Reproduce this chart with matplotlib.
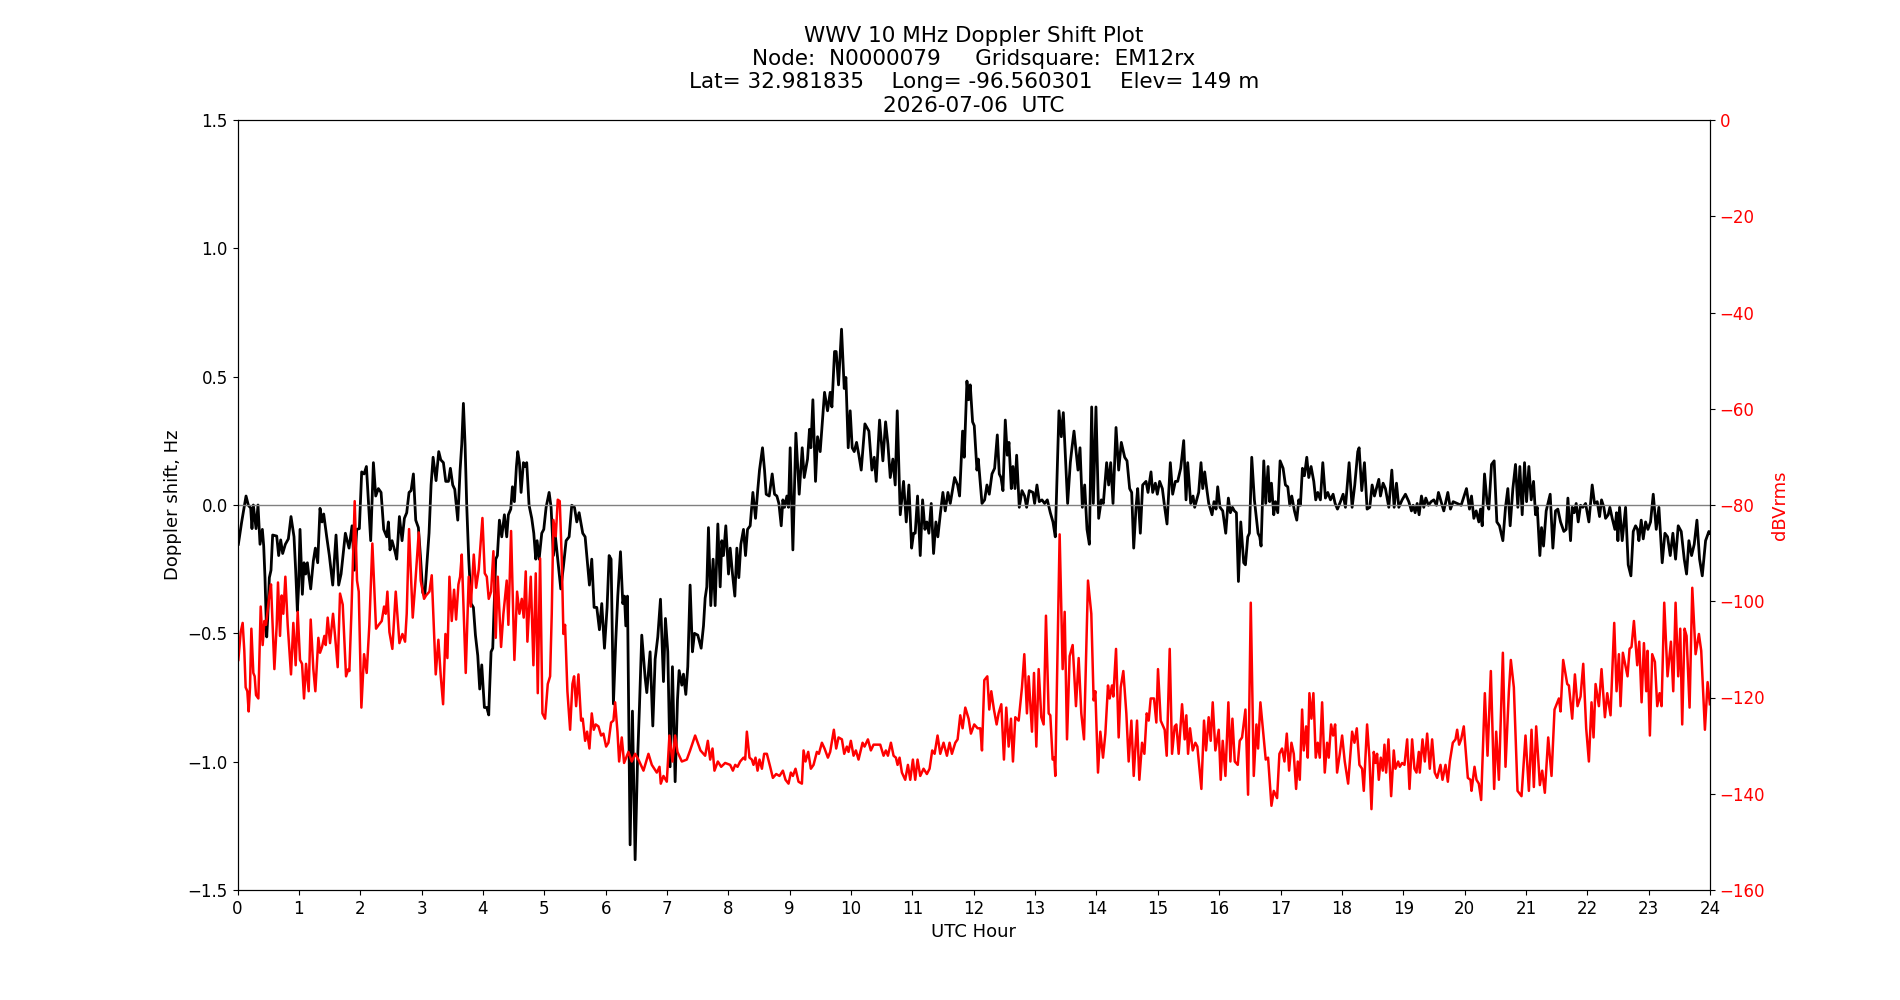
import matplotlib
matplotlib.use('Agg')
import matplotlib.pyplot as plt

# doppler shift trace (black, left axis)
doppler_hours = [
    0.014, 0.068, 0.139, 0.177, 0.215, 0.236, 0.258, 0.302, 0.334, 0.367,
    0.405, 0.427, 0.448, 0.476, 0.492, 0.519, 0.546, 0.573, 0.639, 0.671,
    0.704, 0.736, 0.780, 0.829, 0.872, 0.921, 0.948, 0.976, 0.997, 1.019,
    1.057, 1.084, 1.111, 1.139, 1.160, 1.193, 1.236, 1.269, 1.307, 1.345,
    1.378, 1.405, 1.454, 1.497, 1.552, 1.606, 1.649, 1.688, 1.758, 1.818,
    1.867, 1.905, 1.943, 1.986, 2.024, 2.063, 2.101, 2.139, 2.171, 2.215,
    2.253, 2.296, 2.340, 2.383, 2.432, 2.459, 2.486, 2.519, 2.568, 2.595,
    2.639, 2.682, 2.720, 2.758, 2.796, 2.829, 2.867, 2.905, 2.948, 2.981,
    3.019, 3.052, 3.084, 3.122, 3.155, 3.188, 3.236, 3.280, 3.313, 3.356,
    3.394, 3.438, 3.470, 3.508, 3.541, 3.590, 3.628, 3.655, 3.682, 3.709,
    3.736, 3.769, 3.807, 3.845, 3.878, 3.916, 3.948, 3.981, 4.024, 4.063,
    4.095,
    4.100, 4.133, 4.160, 4.209, 4.236, 4.269, 4.307, 4.350, 4.388, 4.415,
    4.454, 4.481, 4.513, 4.546, 4.568, 4.595, 4.622, 4.660, 4.687, 4.714,
    4.752, 4.796, 4.829, 4.861, 4.883, 4.916, 4.959, 4.992, 5.030, 5.079,
    5.111, 5.149, 5.182, 5.269, 5.312, 5.356, 5.405, 5.448, 5.492, 5.530,
    5.568, 5.627, 5.666, 5.704, 5.736, 5.774, 5.812, 5.856, 5.899, 5.937,
    5.981, 6.024, 6.057, 6.089, 6.127, 6.165, 6.198, 6.242, 6.280, 6.307,
    6.329, 6.356, 6.399, 6.437, 6.481, 6.519, 6.551, 6.589, 6.644, 6.671,
    6.725, 6.769, 6.807, 6.850, 6.894, 6.943, 6.975, 7.013, 7.051, 7.089,
    7.133, 7.171, 7.198, 7.242, 7.269, 7.307, 7.339, 7.377, 7.415, 7.448,
    7.502, 7.557, 7.595, 7.622, 7.649, 7.676, 7.714, 7.752, 7.785, 7.829,
    7.867,
    7.894, 7.921, 7.959, 8.003, 8.030, 8.068, 8.106, 8.139, 8.171, 8.204,
    8.247, 8.280, 8.313, 8.356, 8.400, 8.443, 8.476, 8.508, 8.557, 8.590,
    8.617, 8.666, 8.715, 8.753, 8.791, 8.824, 8.862, 8.889, 8.916, 8.954,
    8.981, 9.008, 9.052, 9.101, 9.155, 9.204, 9.237, 9.291, 9.323, 9.345,
    9.378, 9.421, 9.454, 9.497, 9.568, 9.617, 9.660, 9.688, 9.731, 9.758,
    9.796, 9.845, 9.889, 9.916, 9.954, 9.986, 10.019, 10.052, 10.090, 10.128,
    10.166, 10.226, 10.291, 10.340, 10.378, 10.410, 10.465, 10.519, 10.563, 10.601,
    10.639, 10.682, 10.720, 10.753, 10.802, 10.856, 10.900, 10.943, 10.987, 11.019,
    11.046, 11.084, 11.128, 11.166, 11.204, 11.236, 11.269, 11.307, 11.345, 11.383,
    11.415, 11.454, 11.497, 11.535, 11.579, 11.617, 11.688, 11.737, 11.769, 11.818,
    11.845, 11.889, 11.916, 11.943, 11.981, 12.008, 12.052, 12.074,
    12.134, 12.177, 12.215, 12.253, 12.297, 12.340, 12.384, 12.416, 12.444, 12.476,
    12.514, 12.547, 12.574, 12.612, 12.639, 12.672, 12.699, 12.742, 12.786, 12.829,
    12.862, 12.905, 12.965, 12.992, 13.030, 13.068, 13.112, 13.155, 13.199, 13.248,
    13.291, 13.329, 13.362, 13.389, 13.427, 13.460, 13.492, 13.530, 13.574, 13.601,
    13.634, 13.699, 13.732, 13.770, 13.808, 13.846, 13.884, 13.922, 13.949, 13.992,
    14.036, 14.079, 14.112, 14.166, 14.199, 14.232, 14.270, 14.319, 14.362, 14.405,
    14.460, 14.498, 14.541, 14.574, 14.607, 14.645, 14.672, 14.715, 14.753, 14.808,
    14.840, 14.889, 14.916, 14.960, 14.992, 15.030, 15.074, 15.112, 15.150, 15.204,
    15.242, 15.286, 15.324, 15.373, 15.422, 15.460, 15.487, 15.536, 15.574, 15.601,
    15.666, 15.704, 15.732, 15.764, 15.797, 15.830, 15.884, 15.916, 15.949, 15.976,
    16.014, 16.058,
    16.107, 16.150, 16.183, 16.216, 16.248, 16.281, 16.314, 16.352, 16.400, 16.428,
    16.466, 16.493, 16.531, 16.574, 16.634, 16.661, 16.683, 16.727, 16.759, 16.797,
    16.824, 16.852, 16.890, 16.917, 16.955, 16.993, 17.042, 17.080, 17.118, 17.151,
    17.183, 17.227, 17.265, 17.297, 17.324, 17.357, 17.390, 17.428, 17.460, 17.498,
    17.542, 17.574, 17.607, 17.650, 17.689, 17.732, 17.770, 17.814, 17.857, 17.890,
    17.928, 17.977, 18.020, 18.058, 18.118, 18.167, 18.210, 18.259, 18.281, 18.324,
    18.368, 18.411, 18.455, 18.493, 18.531, 18.602, 18.629, 18.672, 18.710, 18.765,
    18.814, 18.852, 18.890, 18.928, 18.982, 19.036, 19.091, 19.134, 19.161, 19.194,
    19.227, 19.259, 19.297, 19.335, 19.368, 19.411, 19.455, 19.498, 19.542, 19.574,
    19.661, 19.727, 19.770, 19.814, 19.879, 19.944, 20.031, 20.080,
    20.113, 20.151, 20.189, 20.232, 20.260, 20.287, 20.325, 20.368, 20.395, 20.439,
    20.482, 20.526, 20.569, 20.624, 20.667, 20.705, 20.743, 20.787, 20.830, 20.868,
    20.901, 20.939, 20.977, 21.010, 21.048, 21.086, 21.124, 21.156, 21.184, 21.227,
    21.254, 21.287, 21.330, 21.395, 21.439, 21.482, 21.520, 21.564, 21.618, 21.656,
    21.684, 21.727, 21.754, 21.787, 21.819, 21.852, 21.890, 21.928, 21.972, 22.026,
    22.080, 22.118, 22.162, 22.200, 22.232, 22.270, 22.298, 22.341, 22.368, 22.406,
    22.450, 22.477, 22.499, 22.526, 22.569, 22.624, 22.667, 22.711, 22.749, 22.787,
    22.819, 22.841, 22.879, 22.912, 22.950, 22.988, 23.031, 23.075, 23.124, 23.167,
    23.221, 23.265, 23.308, 23.352, 23.395, 23.439, 23.482, 23.531, 23.580, 23.618,
    23.656, 23.700, 23.743, 23.787, 23.830, 23.874, 23.928, 23.982, 23.998,
]
doppler_hz = [
    -0.153, -0.066, 0.035, -0.001, -0.012, -0.092, 0.0, -0.092, 0.0, -0.153,
    -0.095, -0.16, -0.283, -0.514, -0.442, -0.283, -0.254, -0.117, -0.121, -0.197,
    -0.136, -0.189, -0.153, -0.132, -0.045, -0.124, -0.254, -0.413, -0.312, -0.095,
    -0.348, -0.225, -0.269, -0.225, -0.269, -0.327, -0.218, -0.168, -0.225, -0.013,
    -0.066, -0.035, -0.124, -0.197, -0.312, -0.117, -0.312, -0.269, -0.110, -0.168,
    -0.081, -0.254, -0.095, -0.092, 0.129, 0.121, 0.150, -0.009, -0.139, 0.165,
    0.035, 0.064, 0.049, -0.095, -0.124, -0.066, -0.175, -0.139, -0.182, -0.211,
    -0.045, -0.139, -0.052, -0.030, 0.049, 0.056, 0.121, -0.059, -0.088, -0.197,
    -0.341, -0.355, -0.240, -0.110, 0.078, 0.186, 0.095, 0.208, 0.176, 0.165,
    0.092, 0.092, 0.143, 0.078, 0.061, -0.059, 0.136, 0.237, 0.396, 0.237,
    -0.001, -0.211, -0.384, -0.399, -0.507, -0.587, -0.717, -0.623, -0.789, -0.789,
    -0.818,
    -0.775, -0.572, -0.558, -0.211, -0.197, -0.059, -0.124, -0.038, -0.124, -0.038,
    -0.016, 0.071, 0.013, 0.150, 0.208, 0.165, 0.049, 0.165, 0.150, 0.165,
    -0.001, -0.052, -0.110, -0.211, -0.139, -0.211, -0.110, -0.095, -0.009, 0.049,
    -0.009, -0.197, -0.124, -0.327, -0.240, -0.139, -0.124, -0.001, -0.009, -0.066,
    -0.030, -0.110, -0.124, -0.225, -0.312, -0.211, -0.399, -0.399, -0.486, -0.384,
    -0.558, -0.399, -0.197, -0.211, -0.775, -0.529, -0.355, -0.182, -0.384, -0.355,
    -0.471, -0.355, -1.324, -0.803, -1.382, -1.006, -0.789, -0.507, -0.673, -0.731,
    -0.572, -0.861, -0.601, -0.514, -0.367, -0.688, -0.442, -0.572, -1.020, -0.630,
    -1.078, -0.760, -0.645, -0.702, -0.659, -0.738, -0.630, -0.312, -0.572, -0.500,
    -0.507, -0.558, -0.471, -0.363, -0.319, -0.088, -0.392, -0.211, -0.392, -0.074,
    -0.319,
    -0.139, -0.197, -0.081, -0.269, -0.168, -0.269, -0.355, -0.168, -0.283, -0.153,
    -0.095, -0.197, -0.095, -0.081, 0.049, -0.052, 0.049, 0.136, 0.223, 0.136,
    0.042, 0.035, 0.121, 0.042, 0.035, 0.006, -0.081, 0.020, -0.009, 0.035,
    -0.009, 0.223, -0.175, 0.280, 0.042, 0.223, 0.107, 0.179, 0.295, 0.223,
    0.410, 0.092, 0.266, 0.208, 0.439, 0.367, 0.439, 0.382, 0.598, 0.598,
    0.468, 0.685, 0.454, 0.497, 0.223, 0.367, 0.223, 0.208, 0.244, 0.194,
    0.136, 0.316, 0.288, 0.136, 0.186, 0.092, 0.331, 0.172, 0.324, 0.237,
    0.107, 0.179, 0.078, 0.367, -0.038, 0.092, -0.066, 0.078, -0.168, -0.110,
    -0.110, 0.035, -0.197, 0.020, -0.095, -0.066, -0.110, 0.006, -0.189, -0.066,
    -0.124, -0.038, 0.049, -0.023, 0.049, 0.006, 0.107, 0.078, 0.035, 0.288,
    0.186, 0.483, 0.410, 0.468, 0.324, 0.309, 0.136, 0.179,
    0.006, 0.020, 0.078, 0.042, 0.121, 0.143, 0.273, 0.121, 0.107, 0.056,
    0.331, 0.194, 0.244, 0.064, 0.150, 0.064, 0.194, -0.009, 0.056, 0.035,
    -0.009, 0.056, 0.049, 0.006, 0.078, 0.013, 0.020, 0.006, 0.020, -0.030,
    -0.066, -0.124, 0.150, 0.367, 0.266, 0.360, 0.194, 0.006, 0.165, 0.223,
    0.288, 0.136, 0.223, -0.009, 0.078, -0.095, -0.153, 0.382, 0.006, 0.382,
    -0.052, 0.020, 0.006, 0.165, 0.078, 0.165, 0.006, 0.302, 0.136, 0.244,
    0.186, 0.172, 0.064, 0.049, -0.168, -0.009, 0.064, -0.110, 0.078, 0.092,
    0.049, 0.129, 0.049, 0.085, 0.042, 0.092, 0.064, -0.009, -0.074, 0.165,
    0.042, 0.092, 0.092, 0.143, 0.251, 0.020, 0.165, 0.006, 0.035, -0.009,
    0.049, 0.165, 0.064, 0.129, 0.064, 0.006, -0.038, 0.013, -0.016, 0.071,
    -0.009, -0.023,
    -0.110, 0.027, -0.030, -0.009, -0.023, -0.030, -0.298, -0.066, -0.225, -0.233,
    -0.124, -0.110, 0.186, 0.020, -0.110, -0.124, -0.160, 0.172, 0.006, 0.150,
    0.013, 0.085, -0.038, 0.013, -0.030, 0.172, 0.143, 0.078, 0.071, -0.001,
    0.035, -0.023, -0.059, 0.020, -0.001, 0.143, 0.114, 0.186, 0.107, 0.150,
    0.092, 0.020, 0.049, 0.020, 0.165, 0.027, 0.049, 0.020, 0.042, 0.006,
    -0.016, 0.013, 0.042, -0.009, 0.165, -0.009, 0.078, 0.208, 0.223, 0.056,
    0.165, -0.016, -0.009, 0.078, 0.035, 0.100, 0.035, 0.085, 0.064, -0.009,
    0.136, -0.009, 0.085, -0.009, 0.020, 0.042, 0.013, -0.023, -0.001, -0.030,
    0.006, -0.038, 0.035, -0.009, 0.027, -0.001, 0.013, 0.020, -0.001, 0.049,
    -0.023, 0.049, -0.016, 0.013, 0.006, -0.001, 0.064, -0.016,
    0.035, -0.052, -0.023, -0.066, -0.016, -0.081, 0.121, 0.006, -0.016, 0.158,
    0.172, -0.066, -0.081, -0.139, -0.009, 0.064, -0.081, 0.064, 0.158, -0.009,
    0.150, -0.038, 0.165, 0.013, 0.150, 0.020, 0.092, -0.038, -0.009, -0.197,
    -0.088, -0.160, -0.023, 0.042, -0.168, -0.023, -0.016, -0.066, -0.103, -0.095,
    0.027, -0.139, -0.009, -0.030, 0.006, -0.066, -0.001, -0.009, 0.006, -0.066,
    0.078, 0.006, 0.013, -0.045, 0.020, -0.009, -0.052, -0.038, -0.009, -0.052,
    -0.095, -0.030, -0.139, -0.009, -0.139, -0.009, -0.233, -0.276, -0.103, -0.081,
    -0.095, -0.139, -0.059, -0.132, -0.066, -0.095, -0.066, 0.042, -0.095, -0.009,
    -0.225, -0.110, -0.124, -0.197, -0.110, -0.211, -0.081, -0.103, -0.211, -0.269,
    -0.139, -0.197, -0.153, -0.059, -0.211, -0.276, -0.139, -0.103, -0.110,
]

# received signal level (red, right axis)
level_hours = [
    0.014, 0.052, 0.084, 0.111, 0.133, 0.160, 0.182, 0.204, 0.226, 0.258,
    0.280, 0.302, 0.340, 0.378, 0.410, 0.438, 0.465, 0.519, 0.546, 0.601,
    0.639, 0.660, 0.693, 0.720, 0.747, 0.780, 0.818, 0.872, 0.910, 0.948,
    0.981, 1.019, 1.052, 1.084, 1.117, 1.160, 1.193, 1.236, 1.269, 1.318,
    1.345, 1.378, 1.416, 1.438, 1.470, 1.508, 1.557, 1.590, 1.633, 1.671,
    1.715, 1.769, 1.807, 1.823, 1.856, 1.910, 1.948, 1.976, 2.019, 2.063,
    2.106, 2.149, 2.198, 2.258, 2.302, 2.351, 2.389, 2.416, 2.443, 2.476,
    2.524, 2.579, 2.639, 2.688, 2.731, 2.758, 2.796, 2.856, 2.894, 2.954,
    2.986, 3.041, 3.073, 3.128, 3.166, 3.231, 3.274, 3.313, 3.351, 3.389,
    3.421, 3.454, 3.492, 3.530, 3.563, 3.601, 3.628, 3.655, 3.720, 3.769,
    3.802, 3.851, 3.889, 3.932, 3.992, 4.030, 4.063, 4.095,
    4.133, 4.171, 4.209, 4.242, 4.296, 4.334, 4.388, 4.415, 4.459, 4.513,
    4.557, 4.595, 4.633, 4.665, 4.698, 4.725, 4.780, 4.823, 4.861, 4.894,
    4.932, 4.970, 5.013, 5.057, 5.095, 5.122, 5.149, 5.187, 5.220, 5.252,
    5.285, 5.312, 5.339, 5.377, 5.421, 5.459, 5.486, 5.519, 5.557, 5.600,
    5.627, 5.666, 5.698, 5.736, 5.774, 5.807, 5.839, 5.883, 5.926, 5.964,
    6.008, 6.046, 6.089, 6.127, 6.155, 6.193, 6.220, 6.263, 6.301, 6.372,
    6.426, 6.481, 6.535, 6.617, 6.698, 6.753, 6.834, 6.878, 6.899, 6.943,
    6.997, 7.040, 7.089, 7.133, 7.171, 7.242, 7.323, 7.377, 7.459, 7.546,
    7.622, 7.666, 7.704, 7.742, 7.774, 7.829, 7.883, 7.948, 8.030,
    8.074, 8.112, 8.150, 8.193, 8.247, 8.275, 8.302, 8.345, 8.383, 8.410,
    8.443, 8.476, 8.508, 8.547, 8.584, 8.628, 8.682, 8.726, 8.780, 8.834,
    8.889, 8.932, 8.981, 9.019, 9.052, 9.095, 9.144, 9.199, 9.226, 9.258,
    9.302, 9.345, 9.389, 9.443, 9.476, 9.525, 9.568, 9.623, 9.660, 9.720,
    9.758, 9.796, 9.851, 9.889, 9.932, 9.959, 9.997, 10.041, 10.079, 10.122,
    10.188, 10.220, 10.275, 10.323, 10.367, 10.476, 10.530, 10.568, 10.601, 10.650,
    10.693, 10.731, 10.758, 10.791, 10.829, 10.883, 10.927, 10.965, 11.008, 11.046,
    11.084, 11.128, 11.182, 11.236, 11.280, 11.323, 11.362, 11.410, 11.454, 11.508,
    11.563, 11.606, 11.644, 11.699, 11.737, 11.780, 11.818, 11.862, 11.916, 11.954,
    12.008, 12.063,
    12.107, 12.134, 12.172, 12.221, 12.253, 12.286, 12.329, 12.373, 12.405, 12.449,
    12.492, 12.530, 12.569, 12.607, 12.639, 12.677, 12.732, 12.786, 12.824, 12.867,
    12.895, 12.949, 12.982, 13.020, 13.058, 13.101, 13.139, 13.177, 13.221, 13.248,
    13.286, 13.313, 13.329, 13.400, 13.449, 13.482, 13.520, 13.563, 13.612, 13.666,
    13.710, 13.753, 13.797, 13.862, 13.916, 13.954, 13.982, 14.025, 14.063, 14.107,
    14.145, 14.188, 14.215, 14.253, 14.275, 14.319, 14.362, 14.395, 14.438, 14.487,
    14.525, 14.569, 14.607, 14.661, 14.699, 14.743, 14.781, 14.819, 14.851, 14.884,
    14.938, 14.976, 15.003, 15.047, 15.112, 15.145, 15.194, 15.232, 15.275, 15.302,
    15.340, 15.395, 15.438, 15.465, 15.493, 15.525, 15.569, 15.612, 15.645, 15.710,
    15.753, 15.786, 15.829, 15.862, 15.895, 15.938, 15.993, 16.025, 16.058,
    16.102, 16.150, 16.183, 16.216, 16.254, 16.303, 16.335, 16.373, 16.428, 16.471,
    16.515, 16.564, 16.607, 16.634, 16.672, 16.716, 16.759, 16.797, 16.852, 16.890,
    16.944, 16.982, 17.025, 17.064, 17.102, 17.140, 17.178, 17.216, 17.254, 17.281,
    17.314, 17.352, 17.379, 17.417, 17.444, 17.471, 17.504, 17.536, 17.574, 17.607,
    17.640, 17.678, 17.721, 17.759, 17.786, 17.824, 17.857, 17.890, 17.922, 17.966,
    18.004, 18.047, 18.102, 18.167, 18.205, 18.243, 18.286, 18.330, 18.357, 18.411,
    18.449, 18.482, 18.520, 18.547, 18.574, 18.602, 18.634, 18.667, 18.694, 18.721,
    18.759, 18.803, 18.846, 18.873, 18.917, 18.944, 18.982, 19.020, 19.064, 19.102,
    19.145, 19.183, 19.216, 19.254, 19.270, 19.314, 19.352, 19.390, 19.433, 19.471,
    19.514, 19.553, 19.607, 19.640, 19.689, 19.727, 19.759, 19.808, 19.852, 19.879,
    19.911, 19.944, 19.987, 20.053, 20.096,
    20.113, 20.162, 20.194, 20.232, 20.270, 20.330, 20.374, 20.428, 20.482, 20.515,
    20.559, 20.624, 20.667, 20.722, 20.754, 20.803, 20.863, 20.928, 20.993, 21.048,
    21.091, 21.129, 21.167, 21.227, 21.265, 21.308, 21.363, 21.417, 21.466, 21.537,
    21.564, 21.607, 21.673, 21.700, 21.754, 21.798, 21.841, 21.890, 21.934, 21.982,
    22.026, 22.069, 22.102, 22.135, 22.189, 22.232, 22.287, 22.325, 22.379, 22.439,
    22.477, 22.515, 22.542, 22.580, 22.656, 22.689, 22.721, 22.760, 22.814, 22.847,
    22.885, 22.923, 22.961, 22.982, 23.020, 23.058, 23.102, 23.140, 23.178, 23.211,
    23.254, 23.308, 23.363, 23.401, 23.439, 23.482, 23.515, 23.547, 23.585, 23.618,
    23.667, 23.711, 23.765, 23.819, 23.857, 23.917, 23.961, 23.998,
]
level_db = [
    -112.2, -106.4, -104.5, -110.3, -117.9, -118.7, -122.9, -117.9, -105.7, -114.9,
    -115.6, -119.5, -120.2, -101.1, -109.1, -104.1, -104.9, -98.8, -96.5, -114.1,
    -104.9, -96.1, -107.2, -98.8, -102.6, -94.9, -104.9, -115.2, -104.5, -113.3,
    -102.2, -112.2, -113.0, -120.2, -113.0, -118.7, -103.8, -114.1, -118.7, -107.6,
    -110.7, -109.5, -107.2, -109.1, -103.4, -108.7, -102.6, -107.2, -113.7, -98.4,
    -100.7, -115.6, -114.1, -114.5, -102.6, -79.2, -95.7, -98.0, -122.1, -111.0,
    -114.9, -104.9, -88.0, -105.7, -104.9, -104.1, -101.1, -102.6, -98.0, -106.4,
    -109.9, -98.0, -108.7, -106.8, -108.4, -102.6, -85.0, -103.4, -96.9, -85.7,
    -95.7, -99.5, -98.8, -98.0, -94.6, -115.2, -108.0, -115.6, -121.4, -106.8,
    -111.8, -94.9, -104.1, -97.6, -103.8, -96.5, -94.9, -90.3, -114.9, -94.9,
    -101.1, -90.3, -97.2, -93.4, -82.7, -94.2, -94.9, -99.5,
    -98.0, -89.6, -107.6, -94.9, -109.5, -102.6, -95.7, -104.9, -85.4, -112.2,
    -98.0, -102.6, -99.5, -103.4, -93.8, -108.4, -94.9, -113.3, -94.2, -119.1,
    -91.1, -123.3, -124.4, -117.2, -115.6, -102.6, -83.1, -86.5, -78.9, -79.2,
    -91.1, -106.8, -104.9, -118.7, -126.7, -117.2, -115.6, -121.8, -115.2, -124.8,
    -124.4, -129.0, -127.1, -130.6, -123.3, -126.7, -125.6, -126.0, -127.9, -127.5,
    -130.2, -129.4, -125.2, -124.8, -121.0, -127.1, -133.3, -128.3, -133.6, -131.3,
    -133.3, -131.7, -132.9, -135.2, -131.7, -134.0, -135.6, -134.4, -137.9, -136.3,
    -137.5, -127.9, -133.3, -127.9, -131.3, -133.3, -132.9, -131.0, -127.9, -131.0,
    -132.1, -129.0, -132.9, -130.6, -135.2, -133.3, -134.4, -133.6, -134.0,
    -135.2, -134.0, -134.4, -133.3, -132.5, -132.9, -127.1, -132.5, -132.9, -134.0,
    -132.5, -135.2, -132.9, -134.8, -131.7, -131.7, -134.4, -136.7, -135.9, -136.3,
    -135.2, -137.1, -137.9, -135.6, -136.3, -134.8, -137.5, -137.9, -131.0, -133.3,
    -131.3, -134.8, -134.0, -131.3, -131.7, -129.4, -130.6, -132.5, -131.3, -126.7,
    -130.6, -128.3, -128.7, -131.7, -130.2, -131.3, -129.0, -132.1, -131.0, -132.9,
    -129.4, -130.2, -128.7, -131.0, -129.8, -129.8, -132.1, -131.0, -132.1, -129.4,
    -132.1, -132.5, -134.0, -132.5, -135.6, -137.1, -134.0, -137.1, -132.9, -137.1,
    -132.9, -136.3, -134.8, -135.9, -134.8, -131.0, -131.7, -127.9, -131.7, -129.4,
    -132.1, -129.4, -131.7, -129.4, -128.7, -123.7, -126.4, -122.1, -124.4, -127.5,
    -125.6, -126.4,
    -126.4, -131.0, -116.4, -115.6, -122.5, -118.7, -122.5, -125.6, -123.3, -121.4,
    -132.9, -122.1, -130.2, -124.4, -133.3, -124.1, -124.8, -117.9, -111.0, -123.3,
    -115.6, -127.1, -114.9, -130.2, -114.1, -124.1, -125.6, -103.0, -123.3, -123.7,
    -132.9, -132.5, -136.3, -86.1, -114.1, -102.2, -128.7, -111.4, -109.1, -121.8,
    -111.8, -123.3, -128.7, -95.7, -102.6, -120.6, -118.7, -135.6, -127.1, -132.5,
    -127.5, -117.5, -120.2, -117.5, -119.8, -109.9, -128.3, -117.9, -114.5, -123.3,
    -133.3, -124.8, -136.3, -124.8, -137.1, -129.4, -131.7, -123.3, -124.8, -120.2,
    -120.2, -125.2, -114.1, -124.8, -126.7, -132.1, -109.9, -131.7, -126.0, -125.6,
    -131.7, -121.4, -128.7, -123.7, -131.7, -126.4, -131.0, -129.4, -130.2, -139.0,
    -124.8, -131.0, -124.1, -129.0, -121.0, -131.0, -126.7, -137.1, -129.0,
    -136.3, -121.0, -133.3, -124.4, -133.3, -134.0, -129.0, -128.3, -122.5, -140.2,
    -100.3, -136.3, -125.6, -130.6, -121.0, -127.1, -132.9, -132.5, -142.5, -139.4,
    -140.9, -131.7, -130.6, -133.3, -127.5, -135.2, -129.4, -131.7, -139.0, -133.3,
    -137.1, -122.5, -131.0, -126.0, -132.5, -119.1, -124.4, -119.1, -132.5, -129.4,
    -132.5, -121.0, -135.6, -129.4, -132.5, -125.6, -127.9, -125.6, -135.6, -131.7,
    -127.9, -133.3, -137.9, -127.1, -129.4, -126.4, -134.0, -134.8, -139.4, -125.6,
    -132.5, -143.2, -131.3, -133.6, -131.7, -137.1, -132.5, -135.2, -129.8, -135.6,
    -128.7, -140.5, -131.0, -134.8, -133.3, -134.4, -133.6, -134.0, -128.7, -139.0,
    -128.7, -134.8, -135.6, -131.3, -135.6, -128.7, -133.3, -127.5, -134.8, -128.7,
    -135.6, -136.7, -134.0, -137.1, -134.0, -137.5, -133.3, -129.4, -128.7, -126.7,
    -129.8, -128.7, -126.0, -136.7, -137.1,
    -139.4, -134.4, -137.1, -137.9, -141.3, -119.1, -132.1, -114.5, -139.0, -127.1,
    -137.1, -110.7, -134.4, -118.7, -112.2, -117.9, -139.4, -140.5, -127.9, -139.4,
    -126.7, -138.6, -126.0, -138.2, -135.2, -139.8, -128.3, -136.3, -122.5, -120.2,
    -122.9, -112.2, -117.2, -117.5, -124.4, -115.2, -121.8, -119.8, -113.0, -126.4,
    -133.3, -121.0, -128.3, -117.2, -121.8, -114.1, -124.1, -119.1, -123.7, -104.5,
    -118.7, -111.0, -121.8, -110.7, -115.6, -109.9, -109.5, -104.1, -113.3, -108.4,
    -121.0, -108.7, -118.7, -110.3, -127.9, -111.0, -112.6, -121.8, -119.1, -121.8,
    -100.3, -115.6, -108.4, -118.7, -100.3, -115.6, -105.7, -125.6, -105.7, -107.2,
    -122.1, -97.2, -111.0, -106.8, -110.3, -126.7, -116.8, -121.4,
]

title = ('WWV 10 MHz Doppler Shift Plot\n'
         'Node:  N0000079     Gridsquare:  EM12rx\n'
         'Lat= 32.981835    Long= -96.560301    Elev= 149 m\n'
         '2026-07-06  UTC')

fig, ax = plt.subplots(figsize=(19, 10), dpi=100)
ax.plot(doppler_hours, doppler_hz, color='k', lw=2)
ax.axhline(0, color='gray', lw=1)
ax.set_xlim(0, 24)
ax.set_ylim(-1.5, 1.5)
ax.set_xticks(range(25))
ax.tick_params(labelsize=12)
ax.set_xlabel('UTC Hour', fontsize=13)
ax.set_ylabel('Doppler shift, Hz', fontsize=13)
ax.set_title(title, fontsize=15.5)

ax2 = ax.twinx()
ax2.plot(level_hours, level_db, color='r', lw=1.8)
ax2.set_ylim(-160, 0)
ax2.set_ylabel('dBVrms', color='r', fontsize=13)
ax2.tick_params(axis='y', labelcolor='r', labelsize=12)

fig.savefig('out.png', dpi=100)
